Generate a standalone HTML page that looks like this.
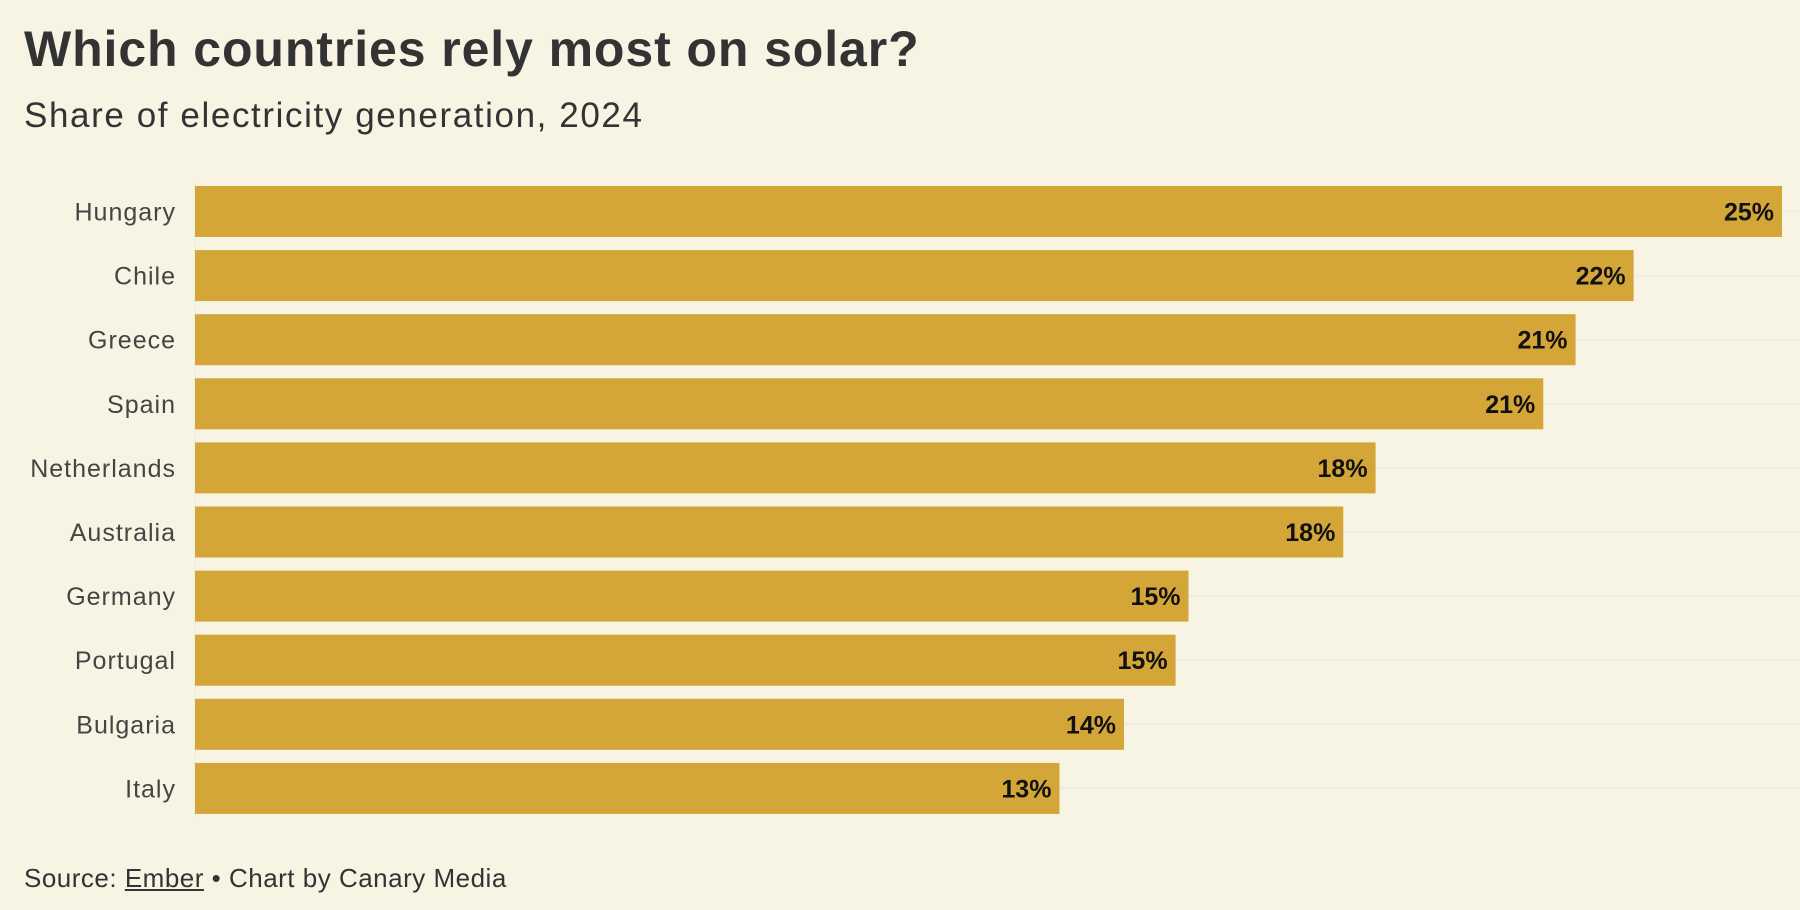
<!DOCTYPE html>
<html><head><meta charset="utf-8">
<style>
html,body{margin:0;padding:0;background:#f8f4e4;}
body{width:1800px;height:910px;overflow:hidden;position:relative;font-family:"Liberation Sans",sans-serif;color:#333;}
#title{position:absolute;left:24px;top:20px;font-size:50px;font-weight:bold;color:#333;letter-spacing:0.9px;}
#subtitle{position:absolute;left:24px;top:96px;font-size:35px;color:#333;letter-spacing:1.6px;}
#source{position:absolute;left:24px;top:863px;font-size:26px;color:#333;letter-spacing:0.5px;}
#source u{text-decoration:underline;}
svg{position:absolute;left:0;top:0;}
</style></head><body>
<div id="title">Which countries rely most on solar?</div>
<div id="subtitle">Share of electricity generation, 2024</div>
<svg id="chart" width="1800" height="910"></svg>
<div id="source">Source: <u>Ember</u> • Chart by Canary Media</div>
<script>
const categories=["Hungary","Chile","Greece","Spain","Netherlands","Australia","Germany","Portugal","Bulgaria","Italy"];
const values=[24.6,22.3,21.4,20.9,18.3,17.8,15.4,15.2,14.4,13.4];
const valueLabels=["25%","22%","21%","21%","18%","18%","15%","15%","14%","13%"];
const NS="http://www.w3.org/2000/svg";
const svg=document.getElementById('chart');
const x0=195,x1=1782,top0=186,pitch=64.1,barH=51;
const maxV=Math.max(...values);
function xScale(v){return x0+(v/maxV)*(x1-x0);}
function yScale(i){return top0+i*pitch;}
function mk(t,a){const e=document.createElementNS(NS,t);for(const k in a)e.setAttribute(k,a[k]);svg.appendChild(e);return e;}
const axis=mk('line',{x1:x0,x2:x0,y1:yScale(0)-6,y2:yScale(categories.length-1)+barH+6,stroke:'#e8e8e8','stroke-width':1});


categories.forEach((c,i)=>{
  const y=yScale(i),cy=y+barH/2;
  const g=mk('line',{x1:x0,x2:1800,y1:cy,y2:cy,stroke:'#ecebe6','stroke-width':2});
  
  
  const r=mk('rect',{x:x0,y:y,width:xScale(values[i])-x0,height:barH,fill:'#d4a537'});
  
  
  const l=mk('text',{x:176,y:cy+9,'text-anchor':'end','font-size':25,'letter-spacing':1,fill:'#444','font-family':'Liberation Sans, sans-serif'});
  l.textContent=c;
  
  
  const v=mk('text',{x:xScale(values[i])-8,y:cy+9,'text-anchor':'end','font-size':25,'font-weight':'bold',fill:'#111','font-family':'Liberation Sans, sans-serif'});
  v.textContent=valueLabels[i];
  
  
});
</script>
</body></html>
